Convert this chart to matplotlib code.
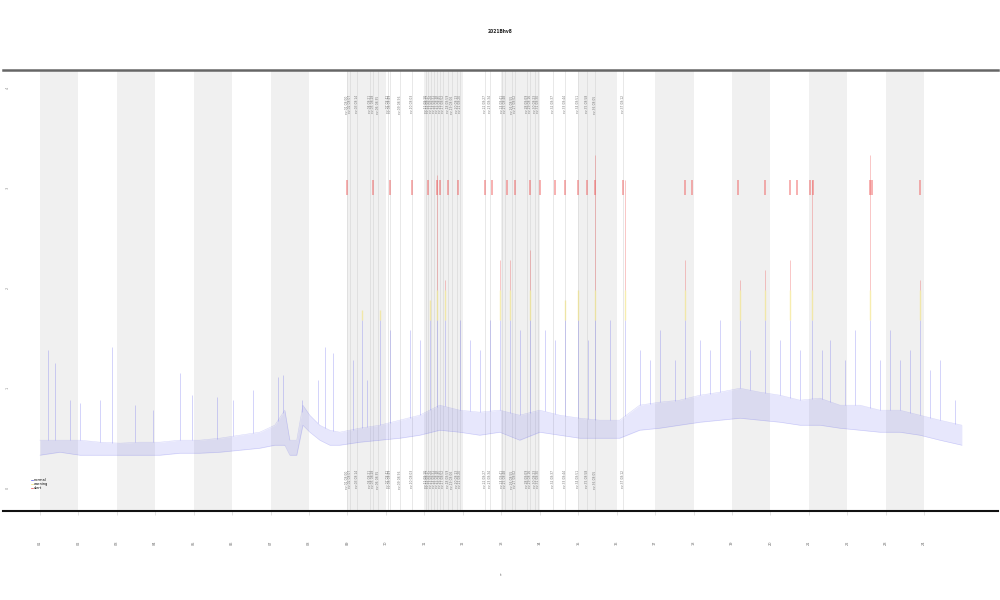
import numpy as np
import matplotlib
matplotlib.use("Agg")
import matplotlib.pyplot as plt
from matplotlib.lines import Line2D

# ---------------- data ----------------
title = "2021Bhv8"

# x ticks (band boundaries) and labels
x_ticks = list(range(0, 24))
x_tick_labels = [f"{d:02d}" for d in range(1, 25)]

# y ticks
y_ticks = [0, 1, 2, 3, 4]
y_tick_labels = ["0", "1", "2", "3", "4"]

# noisy baseline envelope of the blue series
base_x = [0.00, 0.52, 1.04, 1.56, 2.08, 2.60, 3.12, 3.64, 4.16, 4.68, 5.20, 5.72,
          6.11, 6.37, 6.50, 6.68, 6.84, 7.02, 7.28, 7.54, 7.80, 8.32, 8.84, 9.36,
          9.88, 10.40, 10.92, 11.44, 11.96, 12.48, 13.00, 13.52, 14.04, 14.56,
          15.08, 15.60, 16.12, 16.64, 17.17, 17.69, 18.21, 18.73, 19.25, 19.77,
          20.29, 20.81, 21.33, 21.85, 22.37, 22.89, 23.41, 23.98]
base_low = [0.33, 0.36, 0.33, 0.33, 0.33, 0.33, 0.33, 0.35, 0.35, 0.36, 0.38, 0.40,
            0.43, 0.43, 0.33, 0.33, 0.63, 0.56, 0.48, 0.43, 0.43, 0.46, 0.48, 0.50,
            0.53, 0.58, 0.56, 0.53, 0.56, 0.48, 0.56, 0.53, 0.50, 0.50, 0.50, 0.58,
            0.60, 0.63, 0.66, 0.68, 0.70, 0.68, 0.66, 0.63, 0.63, 0.60, 0.58, 0.56,
            0.56, 0.53, 0.48, 0.43]
base_high = [0.48, 0.48, 0.48, 0.46, 0.45, 0.46, 0.46, 0.48, 0.48, 0.50, 0.53, 0.56,
             0.63, 0.78, 0.48, 0.48, 0.83, 0.73, 0.63, 0.58, 0.56, 0.60, 0.63, 0.68,
             0.73, 0.83, 0.78, 0.76, 0.78, 0.73, 0.78, 0.73, 0.70, 0.68, 0.68, 0.83,
             0.86, 0.88, 0.93, 0.96, 1.00, 0.96, 0.93, 0.88, 0.90, 0.83, 0.83, 0.78,
             0.78, 0.73, 0.68, 0.63]

# spikes of the blue series: position and peak value
spike_x = [0.21, 0.39, 0.78, 1.04, 1.56, 1.87, 2.47, 2.94, 3.64, 3.95, 4.60, 5.02,
           5.54, 6.19, 6.32, 6.81, 7.23, 7.41, 7.62, 8.14, 8.37, 8.50, 8.84, 9.10,
           9.62, 9.88, 10.14, 10.33, 10.53, 10.92, 11.18, 11.44, 11.70, 11.96, 12.22,
           12.48, 12.74, 13.13, 13.39, 13.65, 13.99, 14.25, 14.43, 14.82, 15.21, 15.60,
           15.86, 16.12, 16.52, 16.78, 17.17, 17.43, 17.69, 18.21, 18.47, 18.86, 19.25,
           19.51, 19.77, 20.08, 20.34, 20.55, 20.94, 21.20, 21.59, 21.85, 22.11, 22.37,
           22.63, 22.89, 23.15, 23.41, 23.80]
spike_peak = [1.38, 1.25, 0.88, 0.85, 0.88, 1.41, 0.83, 0.78, 1.15, 0.93, 0.91, 0.88,
              0.98, 1.11, 1.13, 0.88, 1.08, 1.41, 1.35, 1.28, 1.78, 1.08, 1.78, 1.58,
              1.58, 1.48, 1.88, 3.13, 2.08, 1.68, 1.48, 1.38, 1.68, 2.28, 2.28,
              1.58, 2.38, 1.58, 1.48, 1.88, 1.98, 1.48, 3.33, 1.68, 3.08, 1.38,
              1.28, 1.58, 1.28, 2.28, 1.48, 1.38, 1.68, 2.08, 1.38, 2.18, 1.48,
              2.28, 1.38, 3.08, 1.38, 1.48, 1.28, 1.58, 3.33, 1.28, 1.58, 1.28,
              1.38, 2.08, 1.18, 1.28, 0.88]

# colour thresholds
warn_level = 1.68
alert_level = 1.98

# alert marks (red ticks high up)
alert_x = [7.98, 8.66, 9.10, 9.67, 10.09, 10.33, 10.40, 10.61, 10.87, 11.57, 11.76,
           12.15, 12.35, 12.74, 13.00, 13.39, 13.65, 13.99, 14.23, 14.43, 15.16, 16.78,
           16.96, 18.15, 18.86, 19.51, 19.69, 20.03, 20.10, 21.59, 21.64, 22.89]
alert_lo = 2.93
alert_hi = 3.08

# labelled events (grey lines with text at top and bottom)
event_x = [7.98, 8.06, 8.24, 8.58, 8.66, 8.79, 9.05, 9.10, 9.36, 9.67, 10.04, 10.09,
           10.17, 10.25, 10.33, 10.40, 10.48, 10.61, 10.72, 10.85, 10.92, 11.57, 11.70,
           12.02, 12.09, 12.28, 12.35, 12.67, 12.74, 12.87, 12.95, 13.34, 13.65, 13.99,
           14.23, 14.43, 15.16]
event_labels = [f"ev-{i + 1:02d} 08:{(i * 7) % 60:02d}" for i in range(len(event_x))]

legend_labels = ["normal", "warning", "alert"]

# ---------------- drawing ----------------
fig = plt.figure(figsize=(10, 6), dpi=100)
ax = fig.add_axes([0.003, 0.148, 0.995, 0.735])
ax.set_xlim(-0.96, 24.92)
ax.set_ylim(-0.23, 4.18)

# alternating grey bands
for k in range(0, 24, 2):
    ax.axvspan(x_ticks[k], x_ticks[k] + 1, color="#f0f0f0", lw=0, zorder=0)

# events
for i, ex in enumerate(event_x):
    ax.axvline(ex, color="#d0d0d0", lw=0.7, alpha=0.5, zorder=1)
    ax.text(ex, 3.93, event_labels[i], rotation=90, fontsize=2.2, color="#555555",
            alpha=0.8, ha="center", va="top", zorder=3)
    ax.text(ex, 0.18, event_labels[i], rotation=90, fontsize=2.2, color="#555555",
            alpha=0.8, ha="center", va="top", zorder=3)

# alert marks
ax.vlines(alert_x, alert_lo, alert_hi, color="#ee5a5a", lw=1.1, alpha=0.6, zorder=4)

# blue series envelope
bx = np.array(base_x)
ax.fill_between(bx, base_low, base_high, color="#6a6aee", alpha=0.16, lw=0, zorder=2)
ax.plot(bx, base_low, color="#5050e8", lw=0.4, alpha=0.22, zorder=2)
ax.plot(bx, base_high, color="#5050e8", lw=0.4, alpha=0.22, zorder=2)

# spikes coloured by level
sx = np.array(spike_x)
sp = np.array(spike_peak)
sb = np.interp(sx, bx, base_high)
ax.vlines(sx, sb, np.minimum(sp, warn_level), color="#5a5aee", lw=0.6, alpha=0.3, zorder=3)
m = sp > warn_level
ax.vlines(sx[m], warn_level, np.minimum(sp[m], alert_level), color="#f2e27a", lw=1.0,
          alpha=0.6, zorder=3)
m2 = sp > alert_level
ax.vlines(sx[m2], alert_level, sp[m2], color="#ee5a5a", lw=0.6, alpha=0.4, zorder=3)

# axes styling
for s in ["left", "right"]:
    ax.spines[s].set_visible(False)
ax.spines["top"].set_color("#666666")
ax.spines["top"].set_linewidth(1.8)
ax.spines["bottom"].set_color("#111111")
ax.spines["bottom"].set_linewidth(1.5)

ax.set_xticks(x_ticks)
ax.set_xticklabels(x_tick_labels, rotation=90, fontsize=2.5, color="#666666")
ax.tick_params(axis="x", length=3, width=0.4, color="#cccccc", pad=18)
ax.set_yticks(y_ticks)
ax.set_yticklabels(y_tick_labels, rotation=90, fontsize=2.5, color="#888888", va="center")
ax.tick_params(axis="y", length=0, pad=-5)
ax.set_xlabel("t", fontsize=3, color="#666666", labelpad=20)

ax.set_title(title, fontsize=3.5, color="#222222", pad=27, fontweight="bold",
             fontstretch="condensed")

handles = [Line2D([], [], color=c, lw=0.5) for c in ["#5050e8", "#f0e070", "#e84a4a"]]
ax.legend(handles, legend_labels, fontsize=2.5, loc="lower left",
          bbox_to_anchor=(0.025, 0.04), frameon=False, handlelength=0.6,
          handletextpad=0.3, labelspacing=0.1)

fig.savefig("out.png", dpi=100, facecolor="white")
